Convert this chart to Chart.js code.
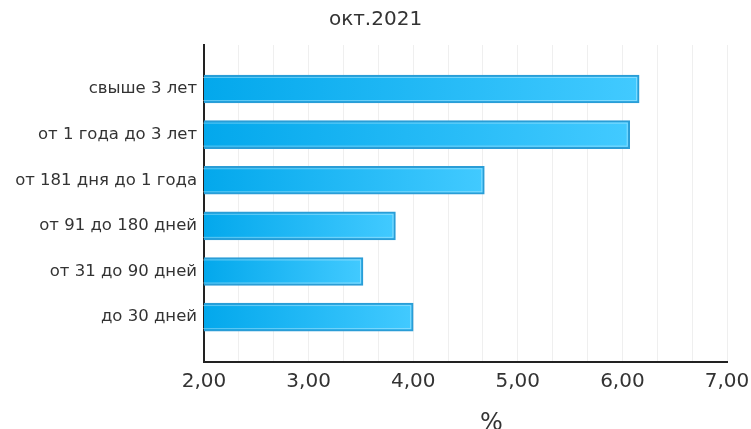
<!DOCTYPE html>
<html>
<head>
<meta charset="utf-8">
<script src="https://cdn.jsdelivr.net/npm/chart.js@4/dist/chart.umd.min.js"></script>
<style>
html,body{margin:0;padding:0;background:#fff;}
#wrap{width:751px;height:429px;position:relative;}
</style>
</head>
<body>
<div id="wrap"><canvas id="c" width="751" height="429"></canvas></div>
<script>
const categories = ['свыше 3 лет','от 1 года до 3 лет','от 181 дня до 1 года','от 91 до 180 дней','от 31 до 90 дней','до 30 дней'];
const values = [6.16, 6.07, 4.68, 3.83, 3.52, 4.00];
const xTickValues = [2, 3, 4, 5, 6, 7];
const subtitleText = 'окт.2021';
const axisTitleText = '%';

const FONT = 'DejaVu Sans';

function barGradient(context) {
  const chart = context.chart;
  const area = chart.chartArea;
  if (!area) return '#1ab4f0';
  const xs = chart.scales.x;
  const v = context.raw && context.raw.x !== undefined ? context.raw.x : xTickValues[0];
  const end = xs.getPixelForValue(v);
  const g = chart.ctx.createLinearGradient(area.left, 0, end, 0);
  g.addColorStop(0, '#03a8ec');
  g.addColorStop(1, '#42caff');
  return g;
}

const innerHighlight = {
  id: 'innerHighlight',
  afterDatasetsDraw(chart) {
    const ctx = chart.ctx;
    const meta = chart.getDatasetMeta(0);
    ctx.save();
    ctx.strokeStyle = 'rgba(255,255,255,0.35)';
    ctx.lineWidth = 1;
    meta.data.forEach(bar => {
      const p = bar.getProps(['x', 'y', 'base', 'height'], true);
      const left = Math.min(p.base, p.x), right = Math.max(p.base, p.x);
      const top = p.y - p.height / 2, bottom = p.y + p.height / 2;
      ctx.strokeRect(left + 2.5, top + 2.5, right - left - 5, bottom - top - 5);
    });
    ctx.restore();
  }
};

const axisTitle = {
  id: 'axisTitle',
  afterDraw(chart) {
    const ctx = chart.ctx;
    const a = chart.chartArea;
    ctx.save();
    ctx.fillStyle = '#333';
    ctx.font = '24px ' + FONT;
    ctx.textAlign = 'center';
    ctx.textBaseline = 'alphabetic';
    ctx.fillText(axisTitleText, (a.left + a.right) / 2 + 26, 430);
    ctx.restore();
  }
};

new Chart(document.getElementById('c'), {
  type: 'bar',
  data: {
    datasets: [{
      data: values.map((v, i) => ({ x: v, y: i })),
      backgroundColor: barGradient,
      borderColor: '#2a9dd6',
      borderWidth: 2,
      borderSkipped: false,
      barThickness: 28
    }]
  },
  options: {
    indexAxis: 'y',
    responsive: false,
    animation: false,
    layout: { padding: { top: 0, left: 0, right: 0, bottom: 0 } },
    plugins: {
      legend: { display: false },
      tooltip: { enabled: false },
      title: { display: false },
      subtitle: {
        display: true,
        text: subtitleText,
        color: '#333',
        font: { family: FONT, size: 20, weight: 'normal' },
        padding: { top: 8, bottom: 13 }
      }
    },
    scales: {
      x: {
        type: 'linear',
        min: xTickValues[0],
        max: xTickValues[xTickValues.length - 1],
        afterBuildTicks(scale) {
          const t = [];
          for (let i = 0; i < xTickValues.length - 1; i++) {
            for (let k = 0; k < 3; k++) {
              t.push({ value: xTickValues[i] + k * (xTickValues[i + 1] - xTickValues[i]) / 3 });
            }
          }
          t.push({ value: xTickValues[xTickValues.length - 1] });
          scale.ticks = t;
        },
        afterFit(scale) { scale.height = 67; scale.paddingRight = 24; },
        grid: { color: '#efefef', lineWidth: 1, drawTicks: false },
        border: { color: '#222', width: 2 },
        ticks: {
          autoSkip: false,
          maxRotation: 0,
          padding: 8,
          color: '#333',
          font: { family: FONT, size: 20 },
          callback(v) {
            return xTickValues.some(t => Math.abs(t - v) < 1e-6) ? v.toFixed(2).replace('.', ',') : '';
          }
        }
      },
      y: {
        type: 'linear',
        reverse: true,
        offset: false,
        min: -0.965,
        max: categories.length - 0.015,
        afterBuildTicks(scale) {
          scale.ticks = categories.map((c, i) => ({ value: i }));
        },
        afterFit(scale) { scale.width = 204; },
        grid: { display: false, drawTicks: false },
        border: { color: '#222', width: 2 },
        ticks: {
          autoSkip: false,
          padding: 7,
          color: '#333',
          font: { family: FONT, size: 16.5 },
          callback(v) { return categories[Math.round(v)]; }
        }
      }
    }
  },
  plugins: [innerHighlight, axisTitle]
});
</script>
</body>
</html>
